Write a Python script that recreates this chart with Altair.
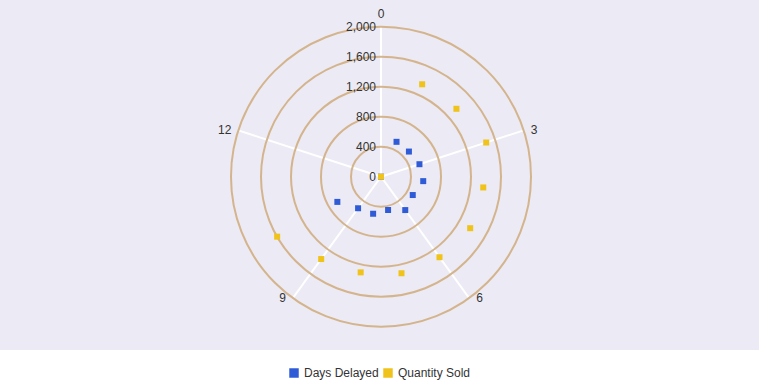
import math
import altair as alt
import pandas as pd

# ---- data ----
thetas = [0, 1, 2, 3, 4, 5, 6, 7, 8, 9, 10]
days_delayed = [0, 509, 501, 539, 566, 489, 550, 454, 505, 520, 672]
quantity_sold = [0, 1349, 1353, 1475, 1371, 1373, 1327, 1316, 1304, 1357, 1599]
series_names = ["Days Delayed", "Quantity Sold"]
series_colors = ["#2F5CD6", "#F0C31A"]
ring_values = [400, 800, 1200, 1600, 2000]
radial_ticks = [0, 400, 800, 1200, 1600, 2000]
angle_ticks = [0, 3, 6, 9, 12]
angle_period = 15
r_max = 2000

FONT = "Liberation Sans"
TXT = "#333333"
BG = "#ECEAF4"
RING = "#D4B48C"

pts = pd.DataFrame(
    {"theta": thetas * 2,
     "r": days_delayed + quantity_sold,
     "series": [series_names[0]] * len(thetas) + [series_names[1]] * len(thetas)}
)
rings = pd.DataFrame({"r": ring_values})
spokes = pd.DataFrame({"t": angle_ticks})
rlabels = pd.DataFrame({"v": radial_ticks})

xs = alt.Scale(domain=[-r_max, r_max], range=[231, 531])
ys = alt.Scale(domain=[-r_max, r_max], range=[326.7, 26.7])
ang_expr = f"datum.t / {angle_period} * 2 * PI"

bg = alt.Chart(pd.DataFrame({"a": [0]})).mark_rect(fill=BG).encode(
    x=alt.value(0), x2=alt.value(759), y=alt.value(0), y2=alt.value(350)
)

spoke_layer = alt.Chart(spokes).transform_calculate(
    cx="0", cy="0",
    ex=f"{r_max} * sin({ang_expr})", ey=f"{r_max} * cos({ang_expr})"
).mark_rule(color="white", strokeWidth=2).encode(
    x=alt.X("cx:Q", scale=xs, axis=None),
    y=alt.Y("cy:Q", scale=ys, axis=None),
    x2="ex:Q", y2="ey:Q",
)

ring_layer = alt.Chart(rings).transform_calculate(cx="0", cy="0").mark_arc(
    theta=0, theta2=2 * math.pi, fillOpacity=0, stroke=RING, strokeWidth=2
).encode(
    x=alt.X("cx:Q", scale=xs, axis=None),
    y=alt.Y("cy:Q", scale=ys, axis=None),
    radius=alt.Radius("r:Q", stack=None,
                      scale=alt.Scale(type="linear", domain=[0, r_max], range=[0, 150])),
)

ang_base = alt.Chart(spokes).transform_calculate(
    lx=f"{r_max} * sin({ang_expr})",
    ly=f"{r_max} * cos({ang_expr})",
    lab="format(datum.t, 'd')",
)


def ang_text(filt, **kw):
    return ang_base.transform_filter(filt).mark_text(
        font=FONT, fontSize=12, color=TXT, baseline="middle", **kw
    ).encode(
        x=alt.X("lx:Q", scale=xs, axis=None),
        y=alt.Y("ly:Q", scale=ys, axis=None),
        text="lab:N",
    )


ang_right = ang_text("datum.lx > 1", align="left", dx=7)
ang_left = ang_text("datum.lx < -1", align="right", dx=-7)
ang_top = ang_text("abs(datum.lx) <= 1", align="center", dy=-13)

rad_labels = alt.Chart(rlabels).transform_calculate(
    cx="0", lab="format(datum.v, ',')"
).mark_text(font=FONT, fontSize=12, color=TXT, align="right", baseline="middle", dx=-5).encode(
    x=alt.X("cx:Q", scale=xs, axis=None),
    y=alt.Y("v:Q", scale=ys, axis=None),
    text="lab:N",
)

point_layer = alt.Chart(pts).transform_calculate(
    px=f"datum.r * sin(datum.theta / {angle_period} * 2 * PI)",
    py=f"datum.r * cos(datum.theta / {angle_period} * 2 * PI)",
).mark_square(size=36, opacity=1).encode(
    x=alt.X("px:Q", scale=xs, axis=None),
    y=alt.Y("py:Q", scale=ys, axis=None),
    color=alt.Color(
        "series:N",
        scale=alt.Scale(domain=series_names, range=series_colors),
        legend=alt.Legend(
            title=None, orient="none", direction="horizontal",
            legendX=288, legendY=367, symbolType="square", symbolSize=90,
            symbolStrokeWidth=0, labelFont=FONT, labelFontSize=12, labelColor=TXT,
            labelOffset=4, columnPadding=3,
        ),
    ),
)

chart = alt.layer(
    bg, spoke_layer, ring_layer, ang_right, ang_left, ang_top, rad_labels, point_layer
).properties(
    width=759, height=389, padding=0, autosize=alt.AutoSizeParams(type="none"), background="white"
).configure_view(stroke=None)

chart.save("out.html", embed_options={"renderer": "svg", "actions": False})
